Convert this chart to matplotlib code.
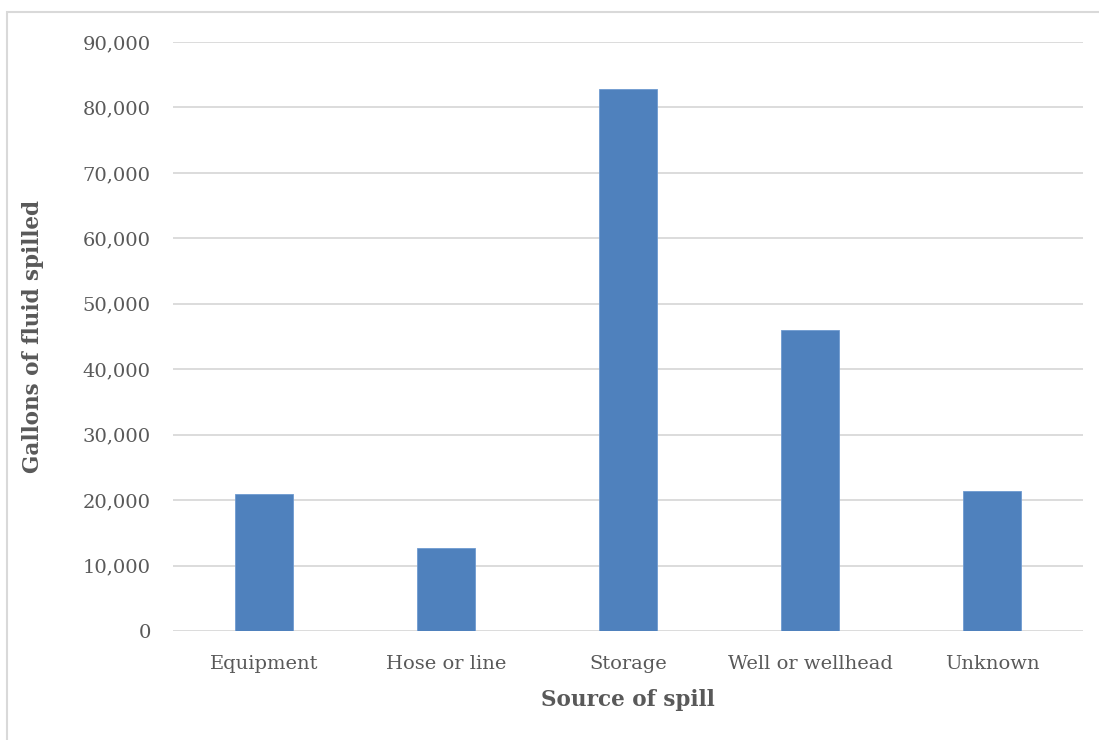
import matplotlib.pyplot as plt
from matplotlib.patches import Rectangle
from matplotlib.ticker import FuncFormatter

# gallons spilled by source
sources = ['Equipment', 'Hose or line', 'Storage', 'Well or wellhead', 'Unknown']
gallons = [20870, 12750, 82810, 45960, 21380]

BAR = '#4F81BD'
GRID = '#D9D9D9'
TXT = '#595959'

plt.rcParams['font.family'] = ['DejaVu Serif']

fig = plt.figure(figsize=(10.99, 7.40), dpi=100)
ax = fig.add_axes([173/1099, 1 - 631/740, 910/1099, 589/740])

x = range(len(sources))
ax.bar(x, gallons, width=0.315, color=BAR, edgecolor='#6F9AD0', linewidth=0.6, zorder=3)

ax.set_xlim(-0.5, len(sources) - 0.5)
ax.set_ylim(0, 90000)
ax.set_yticks(range(0, 90001, 10000))
ax.yaxis.set_major_formatter(FuncFormatter(lambda v, p: '{:,.0f}'.format(v)))
ax.set_xticks(list(x))
ax.set_xticklabels(sources)

ax.grid(axis='y', color=GRID, linewidth=1.3, zorder=0)
for s in ax.spines.values():
    s.set_visible(False)
ax.tick_params(axis='both', length=0, colors=TXT, labelsize=14)
ax.tick_params(axis='y', pad=16)
ax.tick_params(axis='x', pad=17)

ax.set_ylabel('Gallons of fluid spilled', fontsize=15.5, fontweight='bold', color=TXT)
ax.yaxis.set_label_coords(-0.142, 0.5)
ax.set_xlabel('Source of spill', fontsize=15.5, fontweight='bold', color=TXT)
ax.xaxis.set_label_coords(0.5, -0.099)

# light frame around the chart area
fig.patches.append(Rectangle((7/1099, -0.1), 1.2, 1.1 - 12/740,
                             transform=fig.transFigure, fill=False,
                             edgecolor=GRID, linewidth=1.5))

fig.savefig('out.png', dpi=100)
